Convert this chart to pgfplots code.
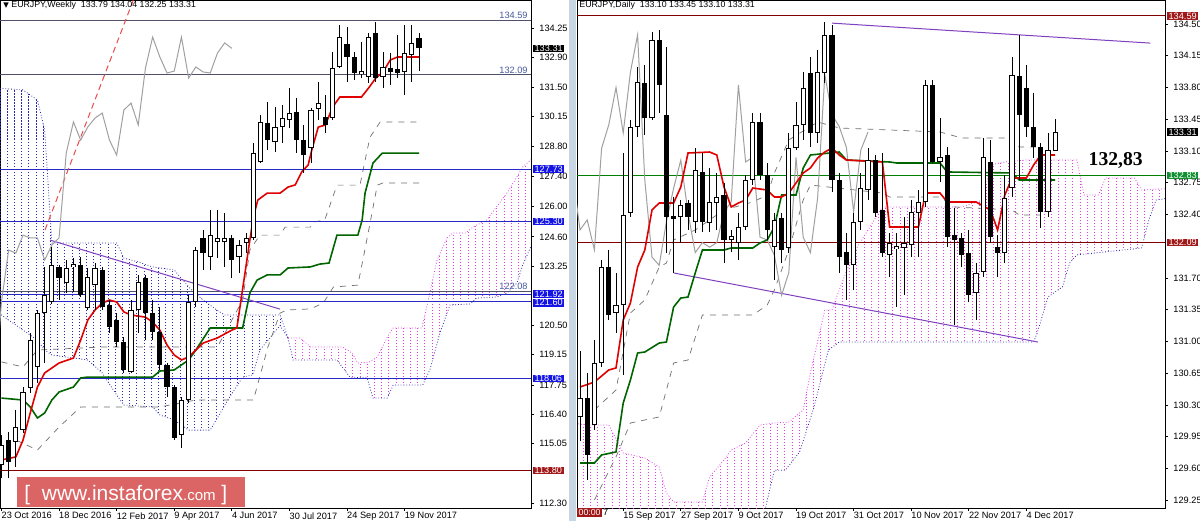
\documentclass[border=0pt]{standalone}
\usepackage{fontspec}
\setmainfont{Liberation Sans}
\newfontfamily\dejavu{DejaVu Sans}
\newfontfamily\libserif{Liberation Serif}
\usepackage{pgfplots}
\pgfplotsset{compat=1.18}
\usepackage{pgfplotstable}
\usetikzlibrary{patterns}

\definecolor{tenkan}{HTML}{E00000}
\definecolor{kijun}{HTML}{006400}
\definecolor{cloudm}{HTML}{E040E0}
\definecolor{cloudb}{HTML}{2828A8}
\definecolor{lvlblue}{HTML}{2828C8}
\definecolor{lvlgray}{HTML}{505068}
\definecolor{lvlred}{HTML}{800000}
\definecolor{boxblue}{HTML}{1414E6}
\definecolor{boxred}{HTML}{A01818}
\definecolor{boxgreen}{HTML}{109030}
\definecolor{purp}{HTML}{8040C0}
\definecolor{wmark}{HTML}{D95858}
\definecolor{chik}{HTML}{A0A0A0}
\definecolor{env}{HTML}{707070}
\definecolor{sepblue}{HTML}{C8D6E4}
\definecolor{lbltxt}{HTML}{4858A0}
\definecolor{lvlgreen}{HTML}{008000}

\pgfdeclarepatternformonly{vdots}{\pgfqpoint{-0.5pt}{-0.5pt}}{\pgfqpoint{4pt}{2pt}}{\pgfqpoint{3.6pt}{1.5pt}}{%
  \pgfsetlinewidth{0.45pt}%
  \pgfpathmoveto{\pgfqpoint{0pt}{0pt}}%
  \pgfpathlineto{\pgfqpoint{0pt}{0.75pt}}%
  \pgfusepath{stroke}%
}

\pgfplotsset{
  mt4/.style={
    scale only axis, clip mode=individual,
    axis line style={black, line width=0.5pt},
    tick style={black, line width=0.4pt},
    tick align=outside, major tick length=1.5pt,
    ytick pos=right, yticklabel pos=right, xtick pos=bottom,
    ticklabel style={font=\fontsize{4.6}{5}\selectfont, text=black},
    yticklabel style={anchor=west, xshift=-0.8pt, /pgf/number format/.cd, fixed, fixed zerofill, precision=2, assume math mode=true},
    xticklabel style={anchor=north west, inner sep=0.5pt, xshift=-0.6pt},
  },
  wick/.style={draw=none, forget plot, error bars/.cd, y dir=both, y explicit, error mark=none, error bar style={draw=black, line width=0.5pt, solid}},
  bodyo/.style={draw=none, forget plot, error bars/.cd, y dir=both, y explicit, error mark=none, error bar style={draw=black, line width=2.6pt, solid}},
  bodyw/.style={draw=none, forget plot, error bars/.cd, y dir=both, y explicit, error mark=none, error bar style={draw=white, line width=1.6pt, solid}},
}

% ---------------- weekly candles ----------------
\pgfplotstableread{
i o h l c
0 114.06 115.44 113.45 114.98
1 115.21 115.58 113.45 114.19
2 115.12 116.60 113.96 115.81
3 115.67 117.66 115.53 117.43
4 117.62 120.16 117.38 119.83
5 118.59 121.22 117.84 121.08
6 121.08 123.21 118.77 121.91
7 121.59 124.13 121.50 123.30
8 123.21 123.30 121.68 122.70
9 122.47 123.53 122.00 123.16
10 123.21 123.62 122.05 123.30
11 123.30 123.67 121.82 121.91
12 121.31 123.16 121.22 122.74
13 122.37 123.39 121.22 123.16
14 123.07 123.21 121.22 121.36
15 121.45 121.68 120.16 120.43
16 120.76 121.08 119.51 119.74
17 119.74 119.97 118.31 118.45
18 118.35 121.68 118.31 121.22
19 121.22 122.84 120.16 122.51
20 122.70 122.84 119.83 121.08
21 121.08 121.68 119.83 120.20
22 120.20 121.36 118.45 118.68
23 118.68 118.77 117.20 117.66
24 117.66 117.75 115.21 115.30
25 115.44 117.20 114.84 117.06
26 117.06 121.91 116.92 121.59
27 121.59 124.13 121.36 123.99
28 124.55 124.91 123.07 123.85
29 123.67 125.84 123.07 124.68
30 124.36 125.84 123.62 124.55
31 124.36 125.70 123.21 124.55
32 124.55 124.68 122.70 123.53
33 123.67 124.45 122.93 124.22
34 124.31 124.78 123.85 124.55
35 124.55 128.94 124.45 128.47
36 128.06 130.23 128.01 129.91
37 129.86 130.83 128.61 129.07
38 128.98 130.60 128.52 129.68
39 129.68 130.69 128.94 130.09
40 130.00 131.48 129.63 130.32
41 130.37 131.02 128.47 129.07
42 129.07 129.77 127.55 128.38
43 128.71 130.55 128.01 130.46
44 130.51 131.75 130.00 130.78
45 130.14 131.15 129.40 129.77
46 130.09 133.14 130.00 132.40
47 132.45 134.39 132.40 133.83
48 133.51 134.30 131.75 132.91
49 132.91 133.14 131.85 132.17
50 132.12 133.60 131.94 132.26
51 131.99 134.02 131.71 133.83
52 134.02 134.53 131.75 131.94
53 131.99 133.14 131.48 132.45
54 132.40 133.09 131.62 132.22
55 132.36 133.93 131.94 132.17
56 132.22 134.39 131.15 133.09
57 133.00 134.39 131.75 133.56
58 133.79 134.04 132.25 133.31
}\weekly

\pgfplotstableread{
i p
0 114.29
2 114.43
3 115.21
4 116.46
5 117.66
6 118.31
8 118.77
10 119.00
11 119.83
12 120.76
13 121.22
14 121.54
15 121.68
16 121.59
17 121.13
18 120.99
20 120.89
21 120.66
22 120.29
23 119.60
24 119.14
25 118.91
26 119.05
27 119.37
28 119.69
30 119.93
32 120.29
32.7 120.39
34.5 124.45
35 125.52
35.6 126.30
36.9 126.62
38.7 126.62
39.8 126.90
40.8 127.00
41.7 127.60
42.6 127.92
43.1 128.61
44 129.67
45 129.77
46 130.60
47 131.06
50 131.06
51 131.48
52 131.94
53 132.22
54 132.77
55 132.91
58 132.91
}\wtenkan

\pgfplotstableread{
i p
0 117.15
3 117.06
4 116.74
5 116.23
6 116.46
7 117.06
8 117.43
10 117.66
11 118.08
12 118.12
21 118.12
22 118.40
24 118.45
26 118.91
27 119.37
29 120.39
33.5 120.39
34.5 122.00
35.5 122.60
36.9 122.84
38.7 122.84
39.8 123.16
42.9 123.21
44.2 123.34
45.5 123.39
46.6 124.68
49.5 124.68
50.1 125.38
50.5 126.62
51.6 128.01
52.9 128.47
58 128.47
}\wkijun

\pgfplotstableread{
i p
0 118.82
3 118.59
5 119.37
14 119.51
30 119.51
33.5 121.68
34.5 123.99
35.9 124.68
38.7 124.68
39.4 125.05
42.9 125.05
43.3 125.28
44.9 125.38
46.6 126.99
49.8 126.99
50.8 128.61
51.2 129.21
52.6 129.91
58 129.91
}\wenvup

\pgfplotstableread{
i p
2 115.21
5 114.75
8 115.81
11 116.74
22 116.74
27 117.06
35 117.06
37 119.50
38.7 121.08
39.7 121.22
42.9 121.27
44.7 121.54
46.1 122.28
49.5 122.37
50.2 123.53
51.2 125.24
52.2 126.99
53 127.09
58 127.09
}\wenvdn

\pgfplotstableread{
i p
-1 131.48
3 131.39
5 130.92
6 129.54
7 124.32
16 124.32
17 123.62
19 123.44
21 123.21
24 123.07
26 122.28
28 121.68
30 121.20
31 120.99
38.7 120.99
39.8 119.93
}\wcbtop

\pgfplotstableread{
i p
-1 121.22
3 120.29
5 119.83
6 119.37
7 119.14
12 118.91
14 118.31
16 117.29
17 116.83
21 116.74
22 116.37
24 116.14
26 115.67
29 115.67
31.7 117.20
33.5 118.12
34.9 118.22
35.9 119.37
38.7 120.50
39.8 119.93
}\wcbbot

\pgfplotstableread{
i p
39.8 119.93
41.5 119.93
42.9 119.51
47.4 119.51
48.7 119.23
49.5 118.77
51 118.80
52.2 119.05
53.6 119.97
54.4 120.39
58.4 120.39
59.5 122.00
60.5 123.53
61.9 124.55
62.7 124.78
64.5 124.78
65.5 125.05
67.4 125.38
70.2 126.62
71.6 127.37
72.4 127.83
74 128.30
}\wcmtop

\pgfplotstableread{
i p
39.8 119.93
40.5 118.91
46.6 118.91
48.4 118.12
50.8 118.08
51.6 117.15
53.6 117.15
54.4 117.75
58.5 117.75
59.5 118.45
60.9 120.16
62.3 121.45
65.1 121.50
66.0 121.77
68.8 121.82
70.2 122.00
71.6 122.47
72.4 123.30
74 124.50
}\wcmbot

% ---------------- daily candles ----------------
\pgfplotstableread{
i o h l c
0 130.17 130.90 129.90 130.38
1 130.38 130.65 129.47 129.75
2 130.08 131.02 130.02 130.76
3 130.76 131.90 130.72 131.82
4 131.82 132.01 131.24 131.29
5 131.31 131.76 131.09 131.40
6 131.40 133.08 130.63 132.40
7 132.42 133.44 132.37 133.37
8 133.37 134.03 133.26 133.86
9 133.85 134.05 133.28 133.46
10 133.46 134.41 133.44 134.32
11 134.32 134.43 133.52 133.83
12 133.50 134.25 131.98 132.37
13 132.37 132.59 131.76 132.36
14 132.37 132.56 132.09 132.51
15 132.53 132.56 132.23 132.37
16 132.32 133.13 132.20 132.89
17 132.87 133.08 132.21 132.32
18 132.31 132.91 132.21 132.54
19 132.53 132.86 132.23 132.59
20 132.62 132.75 131.87 132.12
21 132.12 132.23 131.99 132.16
22 132.09 132.42 131.90 132.26
23 132.26 132.84 132.23 132.78
24 132.78 133.52 132.73 133.42
25 133.42 133.52 132.78 132.84
26 132.84 132.97 132.12 132.23
27 132.04 132.42 131.68 132.34
28 132.36 132.42 131.87 132.01
29 132.03 133.30 131.98 133.13
30 133.13 133.64 133.11 133.39
31 133.39 133.97 133.22 133.80
32 133.96 134.14 133.14 133.30
33 133.30 134.21 133.19 133.97
34 133.96 134.52 133.85 134.38
35 134.38 134.49 132.65 132.78
36 132.78 132.86 131.76 131.93
37 131.99 132.20 131.46 131.84
38 131.84 132.42 131.57 132.32
39 132.32 132.86 132.23 132.69
40 132.67 133.13 132.56 133.00
41 133.00 133.06 132.37 132.42
42 132.45 133.08 131.93 131.98
43 131.95 132.20 131.71 132.09
44 132.03 132.20 131.38 132.04
45 132.03 132.37 131.51 132.09
46 132.06 132.56 131.93 132.43
47 132.42 132.67 131.93 132.54
48 132.54 133.88 132.48 133.83
49 133.83 133.88 132.97 132.98
50 132.98 133.46 132.76 133.03
51 133.06 133.14 132.04 132.15
52 132.17 132.47 131.18 132.12
53 132.14 132.20 131.82 131.95
54 131.98 132.23 131.44 131.51
55 131.54 131.87 131.24 131.76
56 131.77 133.24 131.71 133.03
57 132.98 133.22 132.09 132.15
58 132.04 132.17 131.71 131.98
59 131.98 132.84 131.87 132.58
60 132.69 134.14 132.59 133.94
61 133.93 134.38 132.78 133.50
62 133.80 134.05 133.26 133.37
63 133.37 133.74 133.02 133.14
64 133.14 133.19 132.25 132.43
65 132.43 133.30 132.37 133.11
66 133.10 133.45 133.10 133.31
}\daily

\pgfplotstableread{
i p
0 130.498
2 130.553
4 130.686
5 130.708
6 131.237
7 131.424
8 131.821
9 132.009
10 132.450
11 132.527
13 132.527
14 132.703
15 133.078
18 133.089
19 133.056
20 132.703
21 132.483
22 132.527
23 132.560
24 132.692
26 132.670
27 132.593
28 132.593
29 132.637
31 132.858
32 132.913
33 133.023
34 133.089
35 133.133
36 133.056
37 133.001
42 132.979
43 132.262
47 132.262
48 132.637
50 132.637
51 132.538
55 132.538
57 132.450
58 132.229
59 132.615
60 132.803
62 132.803
63 132.946
64 133.056
66 133.056
}\dtenkan

\pgfplotstableread{
i p
0 129.660
2 129.660
3 129.749
5 129.782
6 130.322
7 130.575
8 130.873
9 130.884
11 130.983
12 130.994
13 131.380
14 131.479
15 131.490
16 131.755
17 132.009
20 132.009
21 132.031
24 132.031
25 132.086
26 132.119
27 132.262
28 132.615
30 132.615
31 132.913
32 133.056
36 133.089
37 133.001
43 132.979
44 132.968
50 132.968
51 132.869
60 132.858
61 132.781
66 132.781
}\dkijun

\pgfplotstableread{
i p
2 130.245
5 130.465
7 131.314
9 131.458
11 131.821
12 131.865
13 132.119
16 132.229
18 132.340
20 132.450
24 132.538
26 132.615
27 132.858
29 133.222
33 133.420
36 133.354
50 133.310
53 133.244
60 133.244
61 133.144
64 133.144
}\denvup

\pgfplotstableread{
i p
2 129.252
5 129.727
7 130.101
11 130.168
13 130.763
15 130.796
17 131.292
24 131.292
26 131.402
27 131.568
29 132.009
31 132.560
32 132.725
42 132.637
43 132.593
50 132.593
52 132.483
60 132.450
61 132.395
64 132.395
}\denvdn

\pgfplotstableread{
i p
-1 130.101
1 130.079
4 130.079
6 129.771
9 129.716
11 129.616
12 129.330
13 129.230
17 129.230
18 129.506
20 129.694
21 129.804
23 129.881
25 130.079
27 130.101
29 130.112
31 130.245
32 130.653
34 131.347
35 131.347
36 131.568
38 131.976
40 132.229
42 132.483
53 132.483
56 132.560
57 132.946
59 132.979
62 133.001
69 133.001
70 132.615
72 132.615
73 132.803
77 132.803
78 132.670
83 132.692
}\dctop

\pgfplotstableread{
i p
25 128.900
26 129.250
27 129.580
28.5 129.580
30.5 129.781
32.5 130.278
34.5 130.906
36 130.994
63 130.994
63.5 131.094
65 131.491
67 131.601
68 131.865
69 131.954
78 132.031
79 132.340
80 132.560
83 132.593
}\dcbot

\begin{document}
\begin{tikzpicture}
\useasboundingbox (0,0) rectangle (600pt,-260.5pt);
\fill[white] (0,0) rectangle (600pt,-260.5pt);
\fill[sepblue] (284.5pt,0) rectangle (288pt,-260.5pt);

% =================== WEEKLY ===================
\begin{axis}[mt4, at={(0pt,0pt)}, anchor=north west, width=265.5pt, height=254pt,
  xmin=-0.2, xmax=73.55, ymin=112.07, ymax=135.544,
  ytick={112.30,115.05,116.40,117.75,119.15,120.50,123.25,124.60,126.00,127.40,128.80,130.15,131.50,132.90,134.25},
  xtick={0,8,16,24,32,40,48,56},
  xticklabels={23 Oct 2016,18 Dec 2016,12 Feb 2017,9 Apr 2017,4 Jun 2017,30 Jul 2017,24 Sep 2017,19 Nov 2017}]
% cloud (hatched polygons: upper edge then lower edge back)
\addplot[draw=none, pattern=vdots, pattern color=cloudb, forget plot] coordinates {
 (-1,131.48) (3,131.39) (5,130.92) (6,129.54) (7,124.32) (16,124.32) (17,123.62) (19,123.44) (21,123.21) (24,123.07) (26,122.28) (28,121.68) (30,121.20) (31,120.99) (38.7,120.99) (39.8,119.93)
 (38.7,120.50) (35.9,119.37) (34.9,118.22) (33.5,118.12) (31.7,117.20) (29,115.67) (26,115.67) (24,116.14) (22,116.37) (21,116.74) (17,116.83) (16,117.29) (14,118.31) (12,118.91) (7,119.14) (6,119.37) (5,119.83) (3,120.29) (-1,121.22)};
\addplot[draw=none, pattern=vdots, pattern color=cloudm, forget plot] coordinates {
 (39.8,119.93) (41.5,119.93) (42.9,119.51) (47.4,119.51) (48.7,119.23) (49.5,118.77) (51,118.80) (52.2,119.05) (53.6,119.97) (54.4,120.39) (58.4,120.39) (59.5,122.00) (60.5,123.53) (61.9,124.55) (62.7,124.78) (64.5,124.78) (65.5,125.05) (67.4,125.38) (70.2,126.62) (71.6,127.37) (72.4,127.83) (74,128.30)
 (74,124.50) (72.4,123.30) (71.6,122.47) (70.2,122.00) (68.8,121.82) (66.0,121.77) (65.1,121.50) (62.3,121.45) (60.9,120.16) (59.5,118.45) (58.5,117.75) (54.4,117.75) (53.6,117.15) (51.6,117.15) (50.8,118.08) (48.4,118.12) (46.6,118.91) (40.5,118.91)};
\addplot[cloudb, densely dotted, line width=0.4pt] table[x=i,y=p] \wcbtop;
\addplot[cloudb, densely dotted, line width=0.4pt] table[x=i,y=p] \wcbbot;
\addplot[cloudm, densely dotted, line width=0.4pt] table[x=i,y=p] \wcmtop;
\addplot[cloudb, densely dotted, line width=0.4pt] table[x=i,y=p] \wcmbot;
% envelopes
\addplot[env, dashed, line width=0.35pt] table[x=i,y=p] \wenvup;
\addplot[env, dashed, line width=0.35pt] table[x=i,y=p] \wenvdn;
% levels
\addplot[lvlgray, line width=0.6pt] coordinates {(-5,134.59) (80,134.59)};
\addplot[lvlgray, line width=0.6pt] coordinates {(-5,132.09) (80,132.09)};
\addplot[lvlblue, line width=0.6pt] coordinates {(-5,127.73) (80,127.73)};
\addplot[lvlblue, line width=0.6pt] coordinates {(-5,125.30) (80,125.30)};
\addplot[lvlgray, line width=0.6pt] coordinates {(-5,122.08) (80,122.08)};
\addplot[lvlblue, line width=0.6pt] coordinates {(-5,121.92) (80,121.92)};
\addplot[lvlblue, line width=0.6pt] coordinates {(-5,121.60) (80,121.60)};
\addplot[lvlblue, line width=0.6pt] coordinates {(-5,118.06) (80,118.06)};
\addplot[lvlred, line width=0.6pt] coordinates {(-5,113.80) (80,113.80)};
% trend lines
\addplot[purp, line width=0.5pt] coordinates {(6.75,124.45) (38.7,121.26)};
\addplot[tenkan!70, densely dashed, line width=0.5pt] coordinates {(6.05,124.92) (18.7,135.87)};
% chikou
\addplot[chik, line width=0.5pt] table[x expr=\thisrow{i}-26, y=c] \weekly;
% kijun & tenkan
\addplot[kijun, line width=0.8pt] table[x=i,y=p] \wkijun;
\addplot[tenkan, line width=0.8pt] table[x=i,y=p] \wtenkan;
% candles
\addplot[wick] table[x=i, y expr={(\thisrow{h}+\thisrow{l})/2}, y error expr={(\thisrow{h}-\thisrow{l})/2}] \weekly;
\addplot[bodyo] table[x=i, y expr={(\thisrow{o}+\thisrow{c})/2}, y error expr={max(abs(\thisrow{c}-\thisrow{o})/2,0.069)}] \weekly;
\addplot[bodyw] table[x=i, y expr={(\thisrow{o}+\thisrow{c})/2}, y error expr={(\thisrow{c}>\thisrow{o})*max(abs(\thisrow{c}-\thisrow{o})/2-0.046,0.023)}] \weekly;
% in-plot labels
\node[anchor=south east, font=\fontsize{4.6}{5}\selectfont, text=lbltxt, inner sep=0.6pt] at (axis cs:73.3,134.59) {134.59};
\node[anchor=south east, font=\fontsize{4.6}{5}\selectfont, text=lbltxt, inner sep=0.6pt] at (axis cs:73.3,132.09) {132.09};
\node[anchor=south east, font=\fontsize{4.6}{5}\selectfont, text=lbltxt, inner sep=0.6pt] at (axis cs:73.3,122.08) {122.08};
% axis boxes
\begin{scope}[every node/.style={anchor=west, font=\fontsize{4.6}{5}\selectfont, text=white, inner xsep=0.8pt, inner ysep=0.25pt, xshift=0.8pt}]
\node[fill=black] at (axis cs:73.55,133.31) {133.31};
\node[fill=boxblue] at (axis cs:73.55,127.73) {127.73};
\node[fill=boxblue] at (axis cs:73.55,125.30) {125.30};
\node[fill=boxblue, yshift=0.5pt] at (axis cs:73.55,121.92) {121.92};
\node[fill=boxblue, yshift=-0.5pt] at (axis cs:73.55,121.60) {121.60};
\node[fill=boxblue] at (axis cs:73.55,118.06) {118.06};
\node[fill=boxred] at (axis cs:73.55,113.80) {113.80};
\end{scope}
\node[anchor=north west, font=\fontsize{4.4}{5}\selectfont, inner sep=0.5pt] at (rel axis cs:0,1) {\hspace{1pt}{\dejavu\fontsize{3.6}{4}\selectfont ▼}\ EURJPY,Weekly\ \ 133.79 134.04 132.25 133.31};
\end{axis}

% =================== DAILY ===================
\begin{axis}[mt4, at={(288.5pt,0pt)}, anchor=north west, width=294pt, height=254pt,
  xmin=-0.417, xmax=81.25, ymin=129.164, ymax=134.765,
  ytick={129.25,129.60,129.95,130.30,130.65,131.00,131.35,131.70,132.40,132.75,133.10,133.45,133.80,134.15,134.50},
  xtick={6,14,22,30,38,46,54,62},
  xticklabels={15 Sep 2017,27 Sep 2017,9 Oct 2017,19 Oct 2017,31 Oct 2017,10 Nov 2017,22 Nov 2017,4 Dec 2017}]
% cloud
\addplot[draw=none, pattern=vdots, pattern color=cloudm, forget plot] coordinates {
 (-1,130.101) (1,130.079) (4,130.079) (6,129.771) (9,129.716) (11,129.616) (12,129.330) (13,129.230) (17,129.230) (18,129.506) (20,129.694) (21,129.804) (23,129.881) (25,130.079) (27,130.101) (29,130.112) (31,130.245) (32,130.653) (34,131.347) (35,131.347) (36,131.568) (38,131.976) (40,132.229) (42,132.483) (53,132.483) (56,132.560) (57,132.946) (59,132.979) (62,133.001) (69,133.001) (70,132.615) (72,132.615) (73,132.803) (77,132.803) (78,132.670) (83,132.692)
 (83,132.593) (80,132.560) (79,132.340) (78,132.031) (69,131.954) (68,131.865) (67,131.601) (65,131.491) (63.5,131.094) (63,130.994) (36,130.994) (34.5,130.906) (32.5,130.278) (30.5,129.781) (28.5,129.580) (27,129.580) (26,129.250) (25,128.900) (-1,128.900)};
\addplot[cloudm, densely dotted, line width=0.4pt] table[x=i,y=p] \dctop;
\addplot[cloudb, densely dotted, line width=0.4pt] table[x=i,y=p] \dcbot;
% envelopes
\addplot[env, dashed, line width=0.35pt] table[x=i,y=p] \denvup;
\addplot[env, dashed, line width=0.35pt] table[x=i,y=p] \denvdn;
% levels
\addplot[lvlred, line width=0.6pt] coordinates {(-5,134.59) (90,134.59)};
\addplot[lvlgreen, line width=0.6pt] coordinates {(-5,132.83) (90,132.83)};
\addplot[lvlred, line width=0.6pt] coordinates {(-5,132.09) (90,132.09)};
% trend lines
\addplot[purp, line width=0.5pt] coordinates {(35,134.51) (79.2,134.29)};
\addplot[purp, line width=0.5pt] coordinates {(13.05,131.755) (63.6,130.994)};
% chikou
\addplot[chik, line width=0.5pt] table[x expr=\thisrow{i}-26, y=c] \daily;
\addplot[kijun, line width=0.8pt] table[x=i,y=p] \dkijun;
\addplot[tenkan, line width=0.8pt] table[x=i,y=p] \dtenkan;
% candles
\addplot[wick] table[x=i, y expr={(\thisrow{h}+\thisrow{l})/2}, y error expr={(\thisrow{h}-\thisrow{l})/2}] \daily;
\addplot[bodyo] table[x=i, y expr={(\thisrow{o}+\thisrow{c})/2}, y error expr={max(abs(\thisrow{c}-\thisrow{o})/2,0.0165)}] \daily;
\addplot[bodyw] table[x=i, y expr={(\thisrow{o}+\thisrow{c})/2}, y error expr={(\thisrow{c}>\thisrow{o})*max(abs(\thisrow{c}-\thisrow{o})/2-0.011,0.0055)}] \daily;
\node[anchor=center, font=\libserif\bfseries\fontsize{9.8}{10}\selectfont, inner sep=0pt] at (axis cs:74.4,132.99) {132,83};
\begin{scope}[every node/.style={anchor=west, font=\fontsize{4.6}{5}\selectfont, text=white, inner xsep=0.8pt, inner ysep=0.25pt, xshift=0.8pt}]
\node[fill=boxred] at (axis cs:81.25,134.59) {134.59};
\node[fill=black] at (axis cs:81.25,133.31) {133.31};
\node[fill=boxgreen] at (axis cs:81.25,132.83) {132.83};
\node[fill=boxred] at (axis cs:81.25,132.09) {132.09};
\end{scope}
\node[anchor=north west, font=\fontsize{4.4}{5}\selectfont, inner sep=0.5pt] at (rel axis cs:0,1) {\hspace{0.5pt}EURJPY,Daily\ \ 133.10 133.45 133.10 133.31};
\node[anchor=north west, fill=boxred, text=white, font=\fontsize{4.4}{5}\selectfont, inner sep=0.6pt] (dt) at (rel axis cs:0,0) {00:00};
\node[anchor=west, font=\fontsize{4.6}{5}\selectfont, inner sep=0.3pt] at (dt.east) {7};
\end{axis}

% watermark
\fill[wmark, opacity=0.92] (8.5pt,-238.5pt) rectangle (122.5pt,-253.5pt);
\node[text=white, anchor=base west, inner sep=0pt, font=\fontsize{10.5}{11}\selectfont] at (12pt,-250pt) {[\ \ www.instaforex{\fontsize{7.5}{8}\selectfont .com}\ ]};
\end{tikzpicture}
\end{document}
